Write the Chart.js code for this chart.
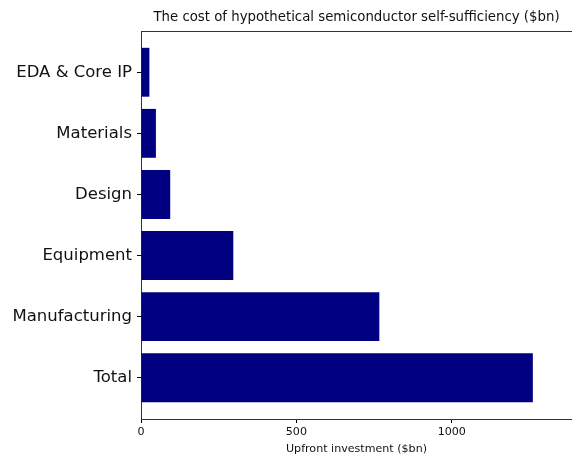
<!DOCTYPE html>
<html>
<head>
<meta charset="utf-8">
<script src="https://cdn.jsdelivr.net/npm/chart.js@4"></script>
<style>
  html, body { margin: 0; padding: 0; background: #fff; }
  #wrap { width: 572px; height: 460px; }
</style>
</head>
<body>
<div id="wrap"><canvas id="myChart" width="572" height="460"></canvas></div>
<script>
// categories bottom -> top (index 0 is the lowest bar)
var categories = ['Total', 'Manufacturing', 'Equipment', 'Design', 'Materials', 'EDA & Core IP'];
var investment = [1261, 767, 297, 94, 48, 27];
var xTicks = [0, 500, 1000];
var chartTitle = 'The cost of hypothetical semiconductor self-sufficiency ($bn)';
var xTitle = 'Upfront investment ($bn)';

var points = categories.map(function (c, i) { return { x: investment[i], y: i }; });

// title centred over the plot area + top spine, like matplotlib
var frame = {
  id: 'frame',
  afterDraw: function (chart) {
    var a = chart.chartArea, ctx = chart.ctx;
    ctx.save();
    ctx.strokeStyle = '#333';
    ctx.lineWidth = 1;
    ctx.beginPath();
    ctx.moveTo(a.left, a.top + 0.5);
    ctx.lineTo(a.right, a.top + 0.5);
    ctx.stroke();
    ctx.fillStyle = '#111';
    ctx.font = '13.3px "DejaVu Sans"';
    ctx.textAlign = 'center';
    ctx.textBaseline = 'middle';
    ctx.fillText(chartTitle, (a.left + a.right) / 2, 18);
    ctx.restore();
  }
};

var ctx = document.getElementById('myChart').getContext('2d');
var chart = new Chart(ctx, {
  type: 'bar',
  data: {
    datasets: [{
      data: points,
      backgroundColor: '#000080',
      borderWidth: 0,
      barPercentage: 0.8,
      categoryPercentage: 1
    }]
  },
  plugins: [frame],
  options: {
    indexAxis: 'y',
    responsive: false,
    animation: false,
    layout: { padding: { top: 31, right: 0, left: 0, bottom: 0 } },
    plugins: { legend: { display: false }, tooltip: { enabled: false } },
    scales: {
      y: {
        type: 'linear',
        offset: false,
        min: -0.675,
        max: 5.675,
        afterBuildTicks: function (s) { s.ticks = categories.map(function (c, i) { return { value: i }; }); },
        afterFit: function (s) { s.width = 141; },
        grid: { offset: false, drawOnChartArea: false, drawTicks: true, tickLength: 4, tickColor: '#000' },
        border: { display: true, color: '#333', width: 1 },
        ticks: {
          padding: 5,
          color: '#111',
          font: { family: 'DejaVu Sans', size: 16.5 },
          callback: function (v) { return categories[v]; }
        }
      },
      x: {
        type: 'linear',
        min: 0,
        max: 1387,
        afterBuildTicks: function (s) { s.ticks = xTicks.map(function (v) { return { value: v }; }); },
        afterFit: function (s) { s.height = 41; },
        grid: { drawOnChartArea: false, drawTicks: true, tickLength: 4, tickColor: '#000' },
        border: { display: true, color: '#333', width: 1 },
        ticks: {
          padding: 2,
          maxRotation: 0,
          color: '#111',
          font: { family: 'DejaVu Sans', size: 11.1 },
          callback: function (v) { return String(v); }
        },
        title: {
          display: true,
          text: xTitle,
          color: '#111',
          font: { family: 'DejaVu Sans', size: 11.1 },
          padding: { top: 0, bottom: 4 }
        }
      }
    }
  }
});
</script>
</body>
</html>
